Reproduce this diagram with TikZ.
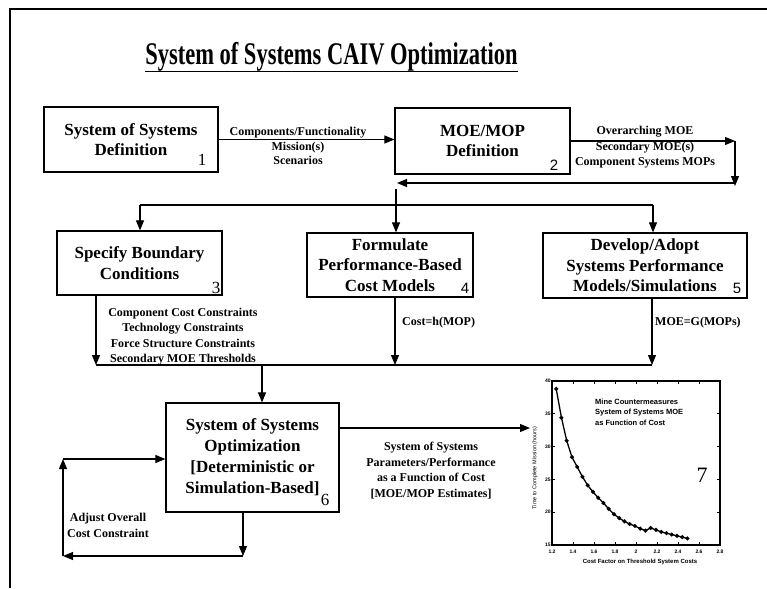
\documentclass[tikz,border=0pt]{standalone}
\usepackage{fontspec}
\setmainfont{Liberation Serif}
\newfontfamily\plotfont{Liberation Sans}
\usetikzlibrary{arrows.meta,plotmarks}

\tikzset{
  box/.style={draw, line width=1.2pt, align=center, inner sep=0pt,
    font=\fontsize{17}{20.5}\selectfont\bfseries},
  arr/.style={-{Triangle[length=10pt,width=8pt]}, line width=1.1pt},
  wire/.style={line width=1.1pt},
  lbl/.style={align=center, inner sep=0pt,
    font=\fontsize{12}{15.5}\selectfont\bfseries},
  num/.style={inner sep=0pt, anchor=base, font=\fontsize{17}{17}\selectfont},
  numsf/.style={inner sep=0pt, anchor=base, font=\plotfont\fontsize{15}{15}\selectfont},
  tick/.style={line width=0.8pt},
  ticklbl/.style={inner sep=0pt, font=\plotfont\fontsize{5}{5}\selectfont\bfseries},
}

\begin{document}
\begin{tikzpicture}[x=1pt,y=-1pt]
\useasboundingbox (0,0) rectangle (767,588);
\fill[white] (0,0) rectangle (767,588);

% page frame
\draw[line width=2.2pt] (10,588) -- (10,9) -- (767,9);

% heading
\node[anchor=base, inner sep=0pt, font=\fontsize{22.5}{22.5}\selectfont\bfseries]
  (title) at (331.5,65) {\scalebox{1}[1.4]{System of Systems CAIV Optimization}};
\draw[line width=1.8pt] ([yshift=-6.5pt]title.base west) -- ([yshift=-6.5pt]title.base east);

% process boxes
\node[box, minimum width=174pt, minimum height=65pt] (box1) at (131,139.5)
  {System of Systems\\Definition};
\node[box, minimum width=175pt, minimum height=66pt] (box2) at (482.5,141)
  {MOE/MOP\\Definition};
\node[box, minimum width=165pt, minimum height=64pt] (box3) at (139.5,263)
  {Specify Boundary\\Conditions};
\node[box, minimum width=166pt, minimum height=64pt] (box4) at (390,265)
  {Formulate\\Performance-Based\\Cost Models};
\node[box, minimum width=204pt, minimum height=65pt] (box5) at (645,265.5)
  {Develop/Adopt\\Systems Performance\\Models/Simulations};
\node[box, minimum width=173pt, minimum height=109pt, font=\fontsize{17}{21}\selectfont\bfseries]
  (box6) at (252.5,457.5)
  {\raisebox{5pt}{\begin{tabular}{@{}c@{}}System of Systems\\Optimization\\{[Deterministic or}\\Simulation-Based{]}\end{tabular}}};

% step numbers
\node[num]   (n1) at (202,165) {1};
\node[numsf] (n2) at (554,171) {2};
\node[num]   (n3) at (216,293) {3};
\node[numsf] (n4) at (465,293) {4};
\node[numsf] (n5) at (737,293) {5};
\node[num]   (n6) at (325,505) {6};

% routing points
\coordinate (r1) at (735,141);
\coordinate (r2) at (735,186);
\coordinate (r3) at (735,183);
\coordinate (r4) at (397,183);
\coordinate (d4) at (396,189);
\coordinate (d3) at (140,205);
\coordinate (d5) at (653,205);
\coordinate (m3) at (96,365);
\coordinate (m4) at (395,365);
\coordinate (m5) at (652,365);
\coordinate (m6) at (262,365);
\coordinate (f1) at (243,556);
\coordinate (f2) at (63,556);
\coordinate (f3) at (63,459);
\coordinate (p7) at (530,428);

% 1 -> 2
\draw[arr] (box1.east) -- (box1.east -| box2.west);
\node[lbl, font=\fontsize{12}{14.5}\selectfont\bfseries] (l12) at (298,146)
  {Components/Functionality\\Mission(s)\\Scenarios};

% 2 -> 3, 4, 5
\draw[arr] (box2.east) -- (r1);
\draw[arr] (r1) -- (r2);
\draw[arr] (r3) -- (r4);
\draw[wire] (d3) -- (d5);
\draw[arr] (d4) -- (d4 |- box4.north);
\draw[arr] (d3) -- (d3 |- box3.north);
\draw[arr] (d5) -- (d5 |- box5.north);
\node[lbl] (l2) at (645,147.5)
  {Overarching MOE\\Secondary MOE(s)\\Component Systems MOPs};

% 3, 4, 5 -> 6
\draw[arr] (m3 |- box3.south) -- (m3);
\draw[arr] (m4 |- box4.south) -- (m4);
\draw[arr] (m5 |- box5.south) -- (m5);
\draw[wire] (m3) -- (m5);
\draw[arr] (m6) -- (m6 |- box6.north);
\node[lbl] (l3) at (183,336.5)
  {Component Cost Constraints\\Technology Constraints\\Force Structure Constraints\\Secondary MOE Thresholds};
\node[lbl, anchor=west] (l4) at (402,323) {Cost=h(MOP)};
\node[lbl, anchor=west] (l5) at (655,323) {MOE=G(MOPs)};

% feedback loop on 6
\draw[arr] (f1 |- box6.south) -- (f1);
\draw[arr] (f1) -- (f2);
\draw[arr] (f2) -- (f3);
\draw[arr] (f3) -- (f3 -| box6.west);
\node[lbl, font=\fontsize{12}{16}\selectfont\bfseries] (l7) at (108,525)
  {Adjust Overall\\Cost Constraint};

% 6 -> result chart
\draw[arr] (p7 -| box6.east) -- (p7);
\node[lbl] (l6) at (431,470.5)
  {System of Systems\\Parameters/Performance\\as a Function of Cost\\{[MOE/MOP Estimates]}};

% result chart
\begin{scope}[shift={(426pt,-643.4pt)}, x=105pt, y=6.56pt]
  \draw[line width=1.2pt] (1.2,15) rectangle (2.8,40);
  \foreach \t in {1.4,1.6,1.8,2.0,2.2,2.4,2.6} {
    \draw[tick] (\t,15) -- ++(0,0.45);
    \draw[tick] (\t,40) -- ++(0,-0.45);
  }
  \foreach \v in {20,25,30,35} {
    \draw[tick] (1.2,\v) -- ++(0.028,0);
    \draw[tick] (2.8,\v) -- ++(-0.028,0);
  }
  \foreach \t/\s in {1.2/1.2,1.4/1.4,1.6/1.6,1.8/1.8,2.0/2,2.2/2.2,2.4/2.4,2.6/2.6,2.8/2.8}
    \node[ticklbl, anchor=north] at (\t,14.2) {\s};
  \foreach \v in {15,20,25,30,35,40}
    \node[ticklbl, anchor=east] at (1.19,\v) {\v};
  \draw[line width=1.3pt, mark=*, mark size=1.3pt] plot coordinates {
    (1.24,38.8) (1.29,34.4) (1.34,30.9) (1.39,28.4) (1.44,26.9) (1.49,25.4)
    (1.54,24.1) (1.59,23.1) (1.64,22.2) (1.69,21.4) (1.74,20.5) (1.79,19.7)
    (1.84,19.1) (1.89,18.6) (1.94,18.2) (1.99,17.9) (2.04,17.5) (2.09,17.2)
    (2.14,17.6) (2.19,17.3) (2.24,17.0) (2.29,16.8) (2.34,16.6) (2.39,16.4)
    (2.44,16.2) (2.49,16.0)};
\end{scope}
\node[inner sep=0pt, rotate=90, font=\plotfont\fontsize{5.5}{5.5}\selectfont] (ylab) at (535,468)
  {Time to Complete Mission (hours)};
\node[inner sep=0pt, font=\plotfont\fontsize{6}{6}\selectfont\bfseries] (xlab) at (640,562)
  {Cost Factor on Threshold System Costs};
\node[inner sep=0pt, anchor=west, align=left, font=\plotfont\fontsize{7.5}{10.5}\selectfont\bfseries]
  (ptitle) at (595,412) {Mine Countermeasures\\System of Systems MOE\\as Function of Cost};
\node[inner sep=0pt, anchor=base, font=\fontsize{22}{22}\selectfont] (n7) at (702,482) {7};
\end{tikzpicture}
\end{document}
